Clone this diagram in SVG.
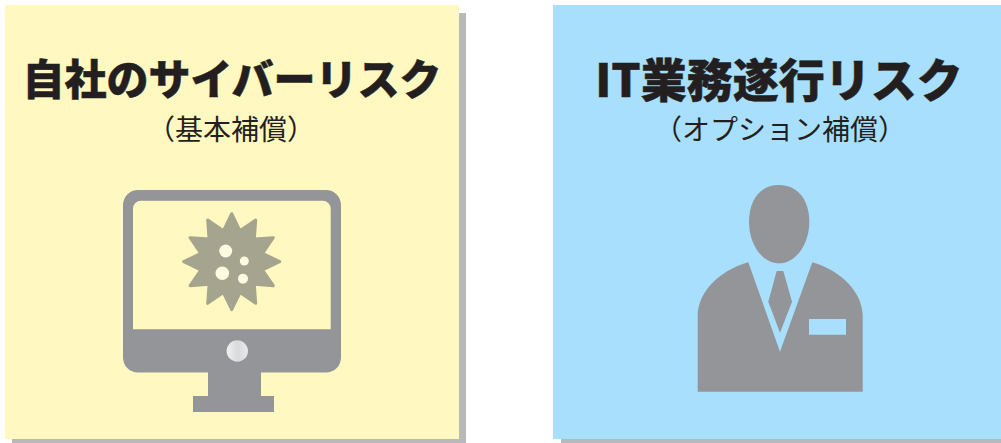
<svg xmlns="http://www.w3.org/2000/svg" width="1001" height="443" viewBox="0 0 1001 443">
<defs>
<linearGradient id="btn" x1="0" x2="1" y1="0" y2="0"><stop offset="0" stop-color="#f1f1f2"/><stop offset="0.5" stop-color="#d9dadb"/><stop offset="1" stop-color="#e8e8e9"/></linearGradient>
</defs>
<style>
.shadow{fill:#b9b9b9}
.icon{fill:#939598}
.title{font-family:"Noto Sans CJK JP","Noto Sans",sans-serif;font-weight:900;fill:#231f20;stroke:#231f20;stroke-width:0.5px;text-anchor:middle}
.sub{font-family:"Noto Sans CJK JP","Noto Sans",sans-serif;font-weight:400;font-size:28px;fill:#231f20;text-anchor:middle}
.hole{fill:#fdfbe0}
</style>
<rect width="1001" height="443" fill="#ffffff"/>
<g id="node-own-cyber-risk">
<rect class="shadow" x="12" y="13" width="454" height="430"/>
<rect x="5" y="5" width="454" height="434" fill="#fff8c0"/>
<text class="title" x="232" y="95" font-size="42">自社のサイバーリスク</text>
<text class="sub" x="231" y="140">（基本補償）</text>
<path class="icon" fill-rule="evenodd" d="M138 190H326A15 15 0 0 1 341 205V357A15 15 0 0 1 326 372.500H261V396H274V412H193V396H208V372.500H138A15 15 0 0 1 123 357V205A15 15 0 0 1 138 190ZM141 200.700A8 8 0 0 0 133 208.700V329.300H330.700V208.700A8 8 0 0 0 322.700 200.700Z"/>
<circle cx="237.300" cy="351" r="10.700" fill="url(#btn)"/>
<path transform="translate(231.7 261.7)" fill="#a5a48e" stroke="#a5a48e" stroke-width="3" stroke-linejoin="round" d="M0 -48L8.300 -30.900L24 -41.600L22.600 -22.600L41.600 -24L30.900 -8.300L48 0L30.900 8.300L41.600 24L22.600 22.600L24 41.600L8.300 30.900L0 48L-8.300 30.900L-24 41.600L-22.600 22.600L-41.600 24L-30.900 8.300L-48 0L-30.900 -8.300L-41.600 -24L-22.600 -22.600L-24 -41.600L-8.300 -30.900Z"/>
<circle class="hole" cx="225.700" cy="251" r="6.500"/>
<circle class="hole" cx="244.300" cy="261" r="4.500"/>
<circle class="hole" cx="222.300" cy="273.300" r="6.800"/>
<circle class="hole" cx="243" cy="278.700" r="5"/>
</g>
<g id="node-it-risk">
<rect class="shadow" x="561" y="13" width="440" height="430"/>
<rect x="553" y="5" width="448" height="434" fill="#a8dffc"/>
<text class="title" x="779" y="97" font-size="46">IT業務遂行リスク</text>
<text class="sub" x="780" y="140">（オプション補償）</text>
<path class="icon" d="M779 185C798 185 809.300 200 809.300 222C809.300 244 796 263.300 779 263.300C762 263.300 749 244 749 222C749 200 760 185 779 185Z"/>
<path class="icon" fill-rule="evenodd" d="M748.300 262.300L780 351.700L812.300 262.300C842 271 862.700 293 862.700 316V391.700H697.700V316C697.700 293 718 271 748.300 262.300ZM809 319V334.700H846V319Z"/>
<path class="icon" d="M776.700 271H783.300L792 301.700L780 332.700L768.300 301.700Z"/>
</g>
<g id="connectors"/>
</svg>
